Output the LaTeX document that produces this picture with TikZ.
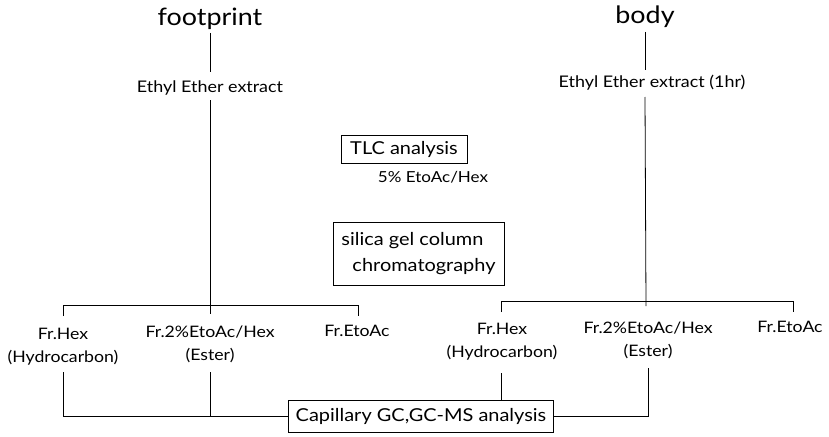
\documentclass[tikz,border=0pt]{standalone}
\usepackage{fontspec}
\setmainfont{Lato}[FakeStretch=1.12]
\begin{document}
\begin{tikzpicture}[x=1pt,y=-1pt,
  every path/.style={line width=0.8pt},
  title/.style={inner sep=0pt, font=\fontsize{24}{24}\selectfont},
  small/.style={inner sep=0pt, font=\fontsize{16}{16}\selectfont},
  frac/.style={inner sep=0pt, font=\fontsize{15.8}{23}\selectfont, align=center},
  box/.style={draw, line width=0.8pt, inner sep=0pt, font=\fontsize{17.8}{26}\selectfont},
]
\useasboundingbox (0,0) rectangle (829,436);
% titles
\node[title] (fp) at (210,19) {footprint};
\node[title] (bd) at (645,17) {body};
\node[small] (eL) at (210,88) {Ethyl Ether extract};
\node[small] (eR) at (652,83) {Ethyl Ether extract (1hr)};
% middle boxes
\node[box, minimum width=126pt, minimum height=28pt] (tlc) at (404,149) {TLC analysis};
\node[small, font=\fontsize{15.2}{15}\selectfont] (sol) at (433,177) {5\% EtoAc/Hex};
\node[box, minimum width=171pt, minimum height=63pt, align=left] (sil) at (418.5,253.5) {silica gel column\\\hspace*{11pt}chromatography};
\node[box, minimum width=265pt, minimum height=32pt] (gc) at (421,416) {Capillary GC,GC-MS analysis};
% left fractions
\node[frac] (hL) at (63,347) {Fr.Hex\\(Hydrocarbon)};
\node[frac] (sL) at (210,344) {Fr.2\%EtoAc/Hex\\(Ester)};
\node[frac] (aL) at (357,331) {Fr.EtoAc};
% right fractions
\node[frac] (hR) at (502,342) {Fr.Hex\\(Hydrocarbon)};
\node[frac] (sR) at (648,340) {Fr.2\%EtoAc/Hex\\(Ester)};
\node[frac] (aR) at (790,327) {Fr.EtoAc};
% branch coordinates
\coordinate (tL1) at (63,316);
\coordinate (tL2) at (210,314);
\coordinate (tL3) at (358,316);
\coordinate (tR1) at (501,312);
\coordinate (tR2) at (646,306);
\coordinate (tR3) at (793,312);
% connectors top
\draw (fp.south |- 0,33) -- (eL.north |- 0,72);
\draw (bd.south |- 0,32) -- (bd.south |- 0,70);
\draw (eL.south |- 0,100) -- (tL2);
\draw (bd.south |- 0,97) -- (tR2);
\draw (tL1) -- (tL1 |- 0,305) -- (tL3 |- 0,305) -- (tL3);
\draw (tR1) -- (tR1 |- 0,301) -- (tR3 |- 0,301) -- (tR3);
% connectors bottom
\draw (hL.south |- 0,372) |- (gc.west);
\draw (sL.south |- 0,372) -- (sL.south |- gc.west);
\draw ([xshift=-1pt]hR.south |- 0,373) -- ([xshift=-1pt]hR.south |- gc.north);
\draw (sR.south |- 0,368) |- (gc.east);
\end{tikzpicture}
\end{document}
